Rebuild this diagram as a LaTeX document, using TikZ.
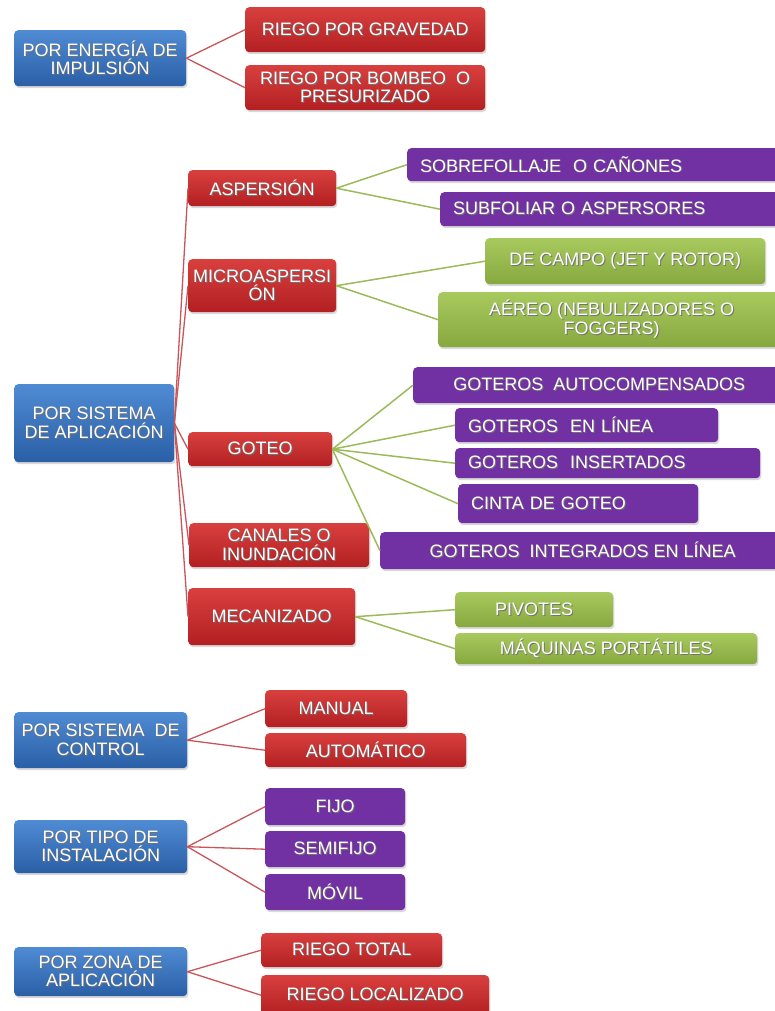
\documentclass[tikz,border=0pt]{standalone}
\usepackage{fontspec}
\setmainfont{Liberation Sans}
\usetikzlibrary{shadows}
\definecolor{blueT}{HTML}{4F8BD3}
\definecolor{blueB}{HTML}{2A5FA6}
\definecolor{redT}{HTML}{D8403E}
\definecolor{redB}{HTML}{B31F22}
\definecolor{purp}{HTML}{7231A2}
\definecolor{grnT}{HTML}{A8C95E}
\definecolor{grnB}{HTML}{86A83E}
\definecolor{lred}{HTML}{C9555A}
\definecolor{lgrn}{HTML}{9BBB59}
\newcommand\tsh[1]{\leavevmode\rlap{\kern0.9pt\raisebox{-0.9pt}{\color{black!55}#1}}#1}
\tikzset{
  boxbase/.style={rounded corners=4pt, inner sep=0pt, anchor=north west, text=white,
    align=center, font=\fontsize{18}{18.5}\selectfont,
    drop shadow={shadow xshift=1.2pt, shadow yshift=-2pt, opacity=0.3}},
  bluebox/.style={boxbase, top color=blueT, bottom color=blueB},
  redbox/.style={boxbase, top color=redT, bottom color=redB},
  purpbox/.style={boxbase, fill=purp},
  grnbox/.style={boxbase, top color=grnT, bottom color=grnB},
  leftt/.style={align=left, text width=#1, inner xsep=13pt},
  wh/.style 2 args={minimum width=#1pt, minimum height=#2pt},
  redline/.style={draw=lred, line width=1.3pt},
  grnline/.style={draw=lgrn, line width=1.5pt},
}
\begin{document}
\begin{tikzpicture}[x=1pt,y=-1pt]
\useasboundingbox (0,0) rectangle (775,1011);
\begin{scope}
\clip (0,0) rectangle (775,1011);
% top group
\node[bluebox, wh={172}{56}] (pei) at (14,30) {\tsh{POR ENERGÍA DE}\\\tsh{IMPULSIÓN}};
\node[redbox, wh={240}{45}] (rg) at (245,7) {\tsh{RIEGO POR GRAVEDAD}};
\node[redbox, wh={240}{45}] (rb) at (245,65) {\tsh{RIEGO POR BOMBEO~ O}\\\tsh{PRESURIZADO}};
% middle group
\node[bluebox, wh={160}{78}] (psa) at (14,384) {\tsh{POR SISTEMA}\\\tsh{DE APLICACIÓN}};
\node[redbox, wh={148}{36}] (asp) at (188,170) {\tsh{ASPERSIÓN}};
\node[purpbox, leftt=352pt, minimum height=33pt] (sob) at (407,148) {\tsh{SOBREFOLLAJE~ O CAÑONES}};
\node[purpbox, leftt=320pt, minimum height=34pt] (sub) at (440,192) {\tsh{SUBFOLIAR O ASPERSORES}};
\node[redbox, wh={148}{53}] (mic) at (188,259) {\tsh{MICROASPERSI}\\\tsh{ÓN}};
\node[grnbox, wh={280}{46}] (dec) at (485,238) {\tsh{DE CAMPO (JET Y ROTOR)}};
\node[grnbox, wh={347}{55}] (aer) at (438,292) {\tsh{AÉREO (NEBULIZADORES O}\\\tsh{FOGGERS)}};
\node[redbox, wh={144}{34}] (got) at (188,432) {\tsh{GOTEO}};
\node[purpbox, wh={372}{36}] (ga) at (413,367) {\tsh{GOTEROS~ AUTOCOMPENSADOS}};
\node[purpbox, leftt=237pt, minimum height=34pt] (gl) at (455,408) {\tsh{GOTEROS~ EN LÍNEA}};
\node[purpbox, leftt=279pt, minimum height=30pt] (gi) at (455,448) {\tsh{GOTEROS~ INSERTADOS}};
\node[purpbox, leftt=214pt, minimum height=39pt] (cg) at (458,484) {\tsh{CINTA DE GOTEO}};
\node[redbox, wh={180}{44}] (can) at (189,523) {\tsh{CANALES O}\\\tsh{INUNDACIÓN}};
\node[purpbox, wh={405}{37}] (gint) at (380,532) {\tsh{GOTEROS~ INTEGRADOS EN LÍNEA}};
\node[redbox, wh={167}{57}] (mec) at (188,588) {\tsh{MECANIZADO}};
\node[grnbox, wh={158}{35}] (piv) at (455,592) {\tsh{PIVOTES}};
\node[grnbox, wh={302}{31}] (maq) at (455,633) {\tsh{MÁQUINAS PORTÁTILES}};
% bottom groups
\node[bluebox, wh={173}{56}] (psc) at (14,712) {\tsh{POR SISTEMA~ DE}\\\tsh{CONTROL}};
\node[redbox, wh={142}{37}] (man) at (265,690) {\tsh{MANUAL}};
\node[redbox, wh={201}{34}] (aut) at (265,733) {\tsh{AUTOMÁTICO}};
\node[bluebox, wh={173}{53}] (pti) at (14,820) {\tsh{POR TIPO DE}\\\tsh{INSTALACIÓN}};
\node[purpbox, wh={140}{37}] (fij) at (265,788) {\tsh{FIJO}};
\node[purpbox, wh={140}{36}] (sem) at (265,831) {\tsh{SEMIFIJO}};
\node[purpbox, wh={140}{36}] (mov) at (265,874) {\tsh{MÓVIL}};
\node[bluebox, wh={173}{49}] (pza) at (14,947) {\tsh{POR ZONA DE}\\\tsh{APLICACIÓN}};
\node[redbox, wh={181}{34}] (rt) at (261,933) {\tsh{RIEGO TOTAL}};
\node[redbox, wh={228}{40}] (rl) at (261,975) {\tsh{RIEGO LOCALIZADO}};
% connectors
\draw[redline] (pei.east) -- (rg.west);
\draw[redline] (pei.east) -- (rb.west);
\foreach \c in {asp,mic,got,can,mec} \draw[redline] (psa.east) -- (\c.west);
\draw[grnline] (asp.east) -- (sob.west);
\draw[grnline] (asp.east) -- (sub.west);
\draw[grnline] (mic.east) -- (dec.west);
\draw[grnline] (mic.east) -- (aer.west);
\foreach \c in {ga,gl,gi,cg,gint} \draw[grnline] (got.east) -- (\c.west);
\draw[grnline] (mec.east) -- (piv.west);
\draw[grnline] (mec.east) -- (maq.west);
\draw[redline] (psc.east) -- (man.west);
\draw[redline] (psc.east) -- (aut.west);
\foreach \c in {fij,sem,mov} \draw[redline] (pti.east) -- (\c.west);
\draw[redline] (pza.east) -- (rt.west);
\draw[redline] (pza.east) -- (rl.west);
\end{scope}
\end{tikzpicture}
\end{document}
